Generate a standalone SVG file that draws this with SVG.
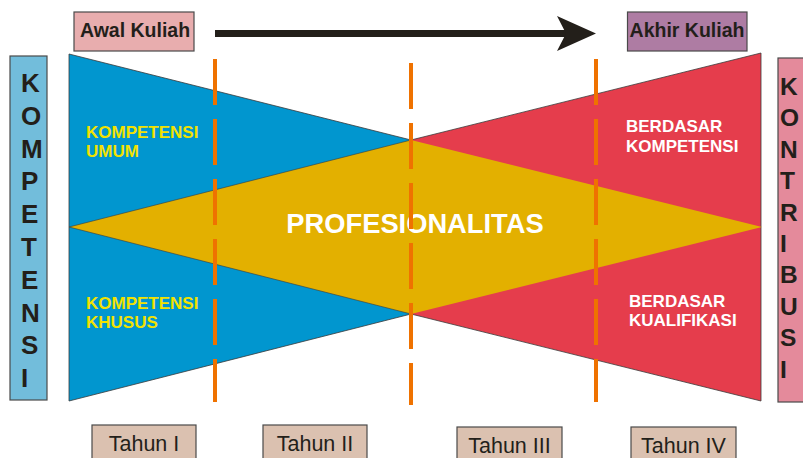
<svg xmlns="http://www.w3.org/2000/svg" width="803" height="458" viewBox="0 0 803 458">
<style>
text{font-family:"Liberation Sans",Arial,sans-serif}
.lbl{font-weight:bold;font-size:19.5px;fill:#231f1a;text-anchor:middle}
.vert{font-weight:bold;fill:#231f1a}
.yel{font-weight:bold;font-size:17px;fill:#f2e200}
.wht{font-weight:bold;font-size:17px;fill:#ffffff}
.yr{font-size:21.5px;fill:#231f1a;text-anchor:middle}
.box{stroke:#4a4a4a;stroke-width:1.2}
.dash{stroke:#ef7200;stroke-width:4;fill:none}
</style>
<rect width="803" height="458" fill="#ffffff"/>
<g id="shapes">
<polygon id="blue" points="69,54 411,140 411,314 69,401" fill="#0196cf" stroke="#3a3a3a" stroke-width="0.8"/>
<polygon id="red" points="411,140 761,53 761,401 411,314" fill="#e53d4c" stroke="#3a3a3a" stroke-width="0.8"/>
<polygon id="gold" points="69,227 411,140 762,227 411,314" fill="#e3b000"/>
<path d="M411,140 L69,227 L411,314" fill="none" stroke="#3a3a3a" stroke-width="0.6"/>
</g>
<g id="texts-inner">
<text class="yel" x="86" y="138">KOMPETENSI</text>
<text class="yel" x="86" y="157">UMUM</text>
<text class="yel" x="86" y="309">KOMPETENSI</text>
<text class="yel" x="86" y="328">KHUSUS</text>
<text class="wht" x="626" y="132">BERDASAR</text>
<text class="wht" x="626" y="152">KOMPETENSI</text>
<text class="wht" x="629" y="307">BERDASAR</text>
<text class="wht" x="629" y="326">KUALIFIKASI</text>
<text x="415" y="233" font-size="27.3" font-weight="bold" fill="#ffffff" text-anchor="middle">PROFESIONALITAS</text>
</g>
<g id="connectors">
<line class="dash" x1="215" y1="59" x2="215" y2="402" stroke-dasharray="46 14"/>
<line class="dash" x1="411" y1="63" x2="411" y2="405" stroke-dasharray="46 14"/>
<line class="dash" x1="596" y1="59" x2="596" y2="402" stroke-dasharray="46 14"/>
<line x1="215" y1="33.5" x2="566" y2="33.5" stroke="#231f1a" stroke-width="7"/>
<polygon points="596,33.5 557,16 566,33.5 557,51" fill="#231f1a"/>
</g>
<g id="awal">
<rect class="box" x="74" y="12" width="120" height="39" fill="#e8adae"/>
<text class="lbl" x="135" y="37">Awal Kuliah</text>
</g>
<g id="akhir">
<rect class="box" x="627.5" y="12" width="119.5" height="39" fill="#ae7ca3"/>
<text class="lbl" x="687" y="36.5">Akhir Kuliah</text>
</g>
<g id="kompetensi">
<rect class="box" x="10" y="56" width="37" height="344" fill="#72bddb"/>
<g class="vert" font-size="26">
<text x="21" y="92">K</text>
<text x="21" y="124.8">O</text>
<text x="21" y="157.6">M</text>
<text x="21" y="190.4">P</text>
<text x="21" y="223.2">E</text>
<text x="21" y="256">T</text>
<text x="21" y="288.8">E</text>
<text x="21" y="321.6">N</text>
<text x="21" y="354.4">S</text>
<text x="21" y="387.2">I</text>
</g>
</g>
<g id="kontribusi">
<rect class="box" x="778" y="58" width="30" height="344" fill="#e48a9b"/>
<g class="vert" font-size="24.5">
<text x="780" y="95">K</text>
<text x="780" y="126.4">O</text>
<text x="780" y="157.8">N</text>
<text x="780" y="189.2">T</text>
<text x="780" y="220.6">R</text>
<text x="780" y="252">I</text>
<text x="780" y="283.4">B</text>
<text x="780" y="314.8">U</text>
<text x="780" y="346.2">S</text>
<text x="780" y="377.6">I</text>
</g>
</g>
<g id="tahun1"><rect class="box" x="92" y="425" width="104" height="40" fill="#dbc1b0"/><text class="yr" x="144" y="451">Tahun I</text></g>
<g id="tahun2"><rect class="box" x="263" y="425" width="104" height="40" fill="#dbc1b0"/><text class="yr" x="315" y="451">Tahun II</text></g>
<g id="tahun3"><rect class="box" x="457" y="427" width="105" height="40" fill="#dbc1b0"/><text class="yr" x="509.5" y="453">Tahun III</text></g>
<g id="tahun4"><rect class="box" x="631" y="427" width="105" height="40" fill="#dbc1b0"/><text class="yr" x="683.5" y="453">Tahun IV</text></g>
</svg>
